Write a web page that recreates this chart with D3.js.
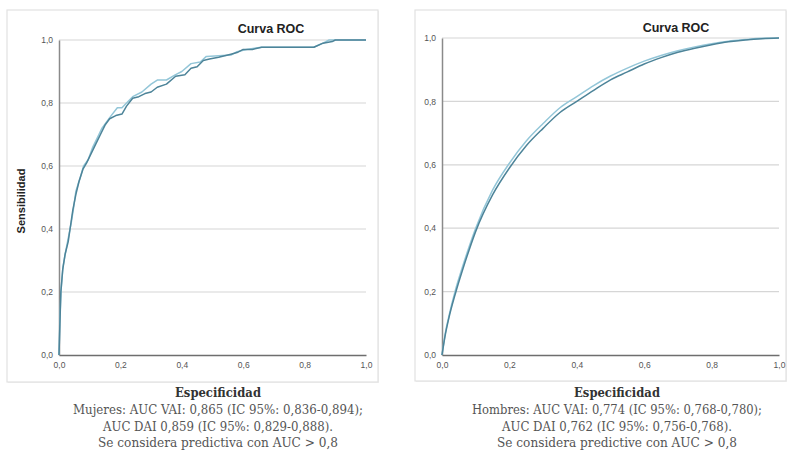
<!DOCTYPE html>
<html><head><meta charset="utf-8">
<script src="https://cdn.jsdelivr.net/npm/d3@7/dist/d3.min.js"></script>
<style>body{margin:0;background:#fff}svg{display:block}</style>
</head><body>
<svg id="c" width="800" height="457"></svg>
<script>
// ---- data ----
const ticks = [0, 0.2, 0.4, 0.6, 0.8, 1.0];
const tickLabels = ["0,0", "0,2", "0,4", "0,6", "0,8", "1,0"];

// Mujeres (left)
const mujeresDAI_x = [0,0.003,0.006,0.012,0.02,0.03,0.036,0.045,0.055,0.065,0.078,0.09,0.105,0.12,0.135,0.15,0.165,0.185,0.205,0.22,0.24,0.26,0.28,0.30,0.32,0.35,0.38,0.41,0.43,0.45,0.47,0.49,0.52,0.56,0.58,0.60,0.63,0.66,0.83,0.86,0.89,0.90,1];
const mujeresDAI_y = [0,0.10,0.20,0.27,0.32,0.36,0.40,0.46,0.51,0.55,0.59,0.61,0.64,0.67,0.70,0.73,0.75,0.76,0.765,0.79,0.815,0.82,0.83,0.835,0.85,0.86,0.885,0.89,0.91,0.915,0.935,0.94,0.945,0.955,0.96,0.97,0.97,0.977,0.977,0.99,0.995,1,1];
const mujeresVAI_x = [0,0.003,0.007,0.013,0.02,0.03,0.04,0.048,0.055,0.068,0.08,0.095,0.11,0.12,0.13,0.14,0.155,0.17,0.19,0.205,0.22,0.24,0.27,0.30,0.32,0.35,0.38,0.40,0.43,0.46,0.48,0.52,0.56,0.58,0.61,0.66,0.83,0.86,0.88,1];
const mujeresVAI_y = [0,0.12,0.21,0.28,0.32,0.37,0.42,0.47,0.52,0.56,0.60,0.62,0.66,0.68,0.70,0.72,0.74,0.76,0.785,0.785,0.80,0.82,0.835,0.86,0.873,0.873,0.89,0.90,0.925,0.93,0.948,0.95,0.952,0.963,0.97,0.977,0.977,0.99,1,1];

// Hombres (right)
const hombres_x   = [0,0.01,0.02,0.04,0.06,0.08,0.1,0.15,0.2,0.25,0.3,0.35,0.4,0.45,0.5,0.55,0.6,0.65,0.7,0.75,0.8,0.85,0.9,0.95,1];
const hombresDAI_y = [0,0.065,0.115,0.195,0.265,0.33,0.39,0.505,0.59,0.66,0.715,0.765,0.80,0.835,0.868,0.893,0.918,0.938,0.955,0.968,0.979,0.988,0.994,0.998,1];
const hombresVAI_y = [0,0.07,0.12,0.205,0.275,0.34,0.40,0.52,0.605,0.675,0.73,0.78,0.815,0.85,0.88,0.905,0.927,0.945,0.96,0.972,0.982,0.99,0.995,0.999,1];

const captionsLeft = ["Mujeres: AUC VAI: 0,865 (IC 95%: 0,836-0,894);", "AUC DAI 0,859 (IC 95%: 0,829-0,888).", "Se considera predictiva con AUC > 0,8"];
const captionsRight = ["Hombres: AUC VAI: 0,774 (IC 95%: 0,768-0,780);", "AUC DAI 0,762 (IC 95%: 0,756-0,768).", "Se considera predictive con AUC > 0,8"];

const svg = d3.select("#c");
const darkCol = "#4d8499", lightCol = "#93c6d8";

function panel(cfg) {
  const g = svg.append("g");
  g.append("rect").attr("x", cfg.box[0] + 1).attr("y", cfg.box[1] + 1)
    .attr("width", cfg.box[2] - cfg.box[0]).attr("height", cfg.box[3] - cfg.box[1])
    .attr("fill", "#f0f0f0");
  g.append("rect").attr("x", cfg.box[0]).attr("y", cfg.box[1])
    .attr("width", cfg.box[2] - cfg.box[0]).attr("height", cfg.box[3] - cfg.box[1])
    .attr("fill", "#fff").attr("stroke", "#e2e2e2").attr("stroke-width", 1.2);
  const x = d3.scaleLinear().domain([0, 1]).range([cfg.x0, cfg.x1]);
  const y = d3.scaleLinear().domain([0, 1]).range([cfg.y0, cfg.y1]);
  // grid
  g.append("g").selectAll("line").data(ticks.slice(1)).join("line")
    .attr("x1", cfg.x0).attr("x2", cfg.x1).attr("y1", d => y(d)).attr("y2", d => y(d))
    .attr("stroke", "#d6d6d6").attr("stroke-width", 1.2);
  // axes
  const ya = d3.axisLeft(y).tickValues(ticks).tickFormat((d, i) => tickLabels[i]).tickSize(0).tickPadding(cfg.ypad);
  const yg = g.append("g").attr("transform", `translate(${cfg.x0},0)`).call(ya);
  yg.select(".domain").attr("stroke", "#8a8a8a").attr("stroke-width", 1.5);
  const xa = d3.axisBottom(x).tickValues(ticks).tickFormat((d, i) => tickLabels[i]).tickSize(0).tickPadding(7);
  const xg = g.append("g").attr("transform", `translate(0,${cfg.y0})`).call(xa);
  xg.select(".domain").attr("stroke", "#6e6e6e").attr("stroke-width", 1.6);
  g.selectAll(".tick text").attr("font-family", "Arial, 'Liberation Sans', sans-serif")
    .attr("font-size", 8.5).attr("fill", "#555");
  // curves
  cfg.series.forEach(s => {
    const pts = s.x.map((v, i) => [v, s.y[i]]);
    g.append("path").datum(pts)
      .attr("d", d3.line().x(d => x(d[0])).y(d => y(d[1])).curve(cfg.curve))
      .attr("fill", "none").attr("stroke", s.color).attr("stroke-width", 1.5)
      .attr("stroke-linejoin", "round");
  });
  // title
  g.append("text").attr("x", cfg.titleX).attr("y", cfg.titleY).attr("text-anchor", "middle")
    .attr("font-family", "Arial, 'Liberation Sans', sans-serif").attr("font-weight", "bold")
    .attr("font-size", 12.5).attr("fill", "#222").text("Curva ROC");
  // captions
  g.append("text").attr("x", cfg.capX).attr("y", 397).attr("text-anchor", "middle")
    .attr("font-family", "'DejaVu Serif', serif").attr("font-weight", "bold")
    .attr("font-size", 13).attr("fill", "#333").attr("textLength", 86).attr("lengthAdjust", "spacingAndGlyphs").text("Especificidad");
  const lens = [290, 230, 240];
  cfg.captions.forEach((t, i) => {
    g.append("text").attr("x", cfg.capX).attr("y", 414 + i * 16.5).attr("text-anchor", "middle")
      .attr("font-family", "'DejaVu Serif', serif").attr("font-size", 12.2)
      .attr("fill", "#555").attr("textLength", lens[i]).attr("lengthAdjust", "spacingAndGlyphs").text(t);
  });
  return g;
}

panel({box: [7, 10, 378, 382], x0: 59, x1: 366, y0: 355, y1: 40, ypad: 6,
  titleX: 271, titleY: 33, capX: 218, captions: captionsLeft, curve: d3.curveLinear,
  series: [{x: mujeresVAI_x, y: mujeresVAI_y, color: lightCol}, {x: mujeresDAI_x, y: mujeresDAI_y, color: darkCol}]});
panel({box: [415, 10, 786, 381], x0: 442, x1: 779, y0: 355, y1: 38, ypad: 6,
  titleX: 676, titleY: 32, capX: 617, captions: captionsRight, curve: d3.curveMonotoneX,
  series: [{x: hombres_x, y: hombresVAI_y, color: lightCol}, {x: hombres_x, y: hombresDAI_y, color: darkCol}]});

svg.append("text").attr("transform", "translate(25,201) rotate(-90)").attr("text-anchor", "middle")
  .attr("font-family", "Arial, 'Liberation Sans', sans-serif").attr("font-weight", "bold")
  .attr("font-size", 11).attr("fill", "#222").text("Sensibilidad");
</script>
</body></html>
